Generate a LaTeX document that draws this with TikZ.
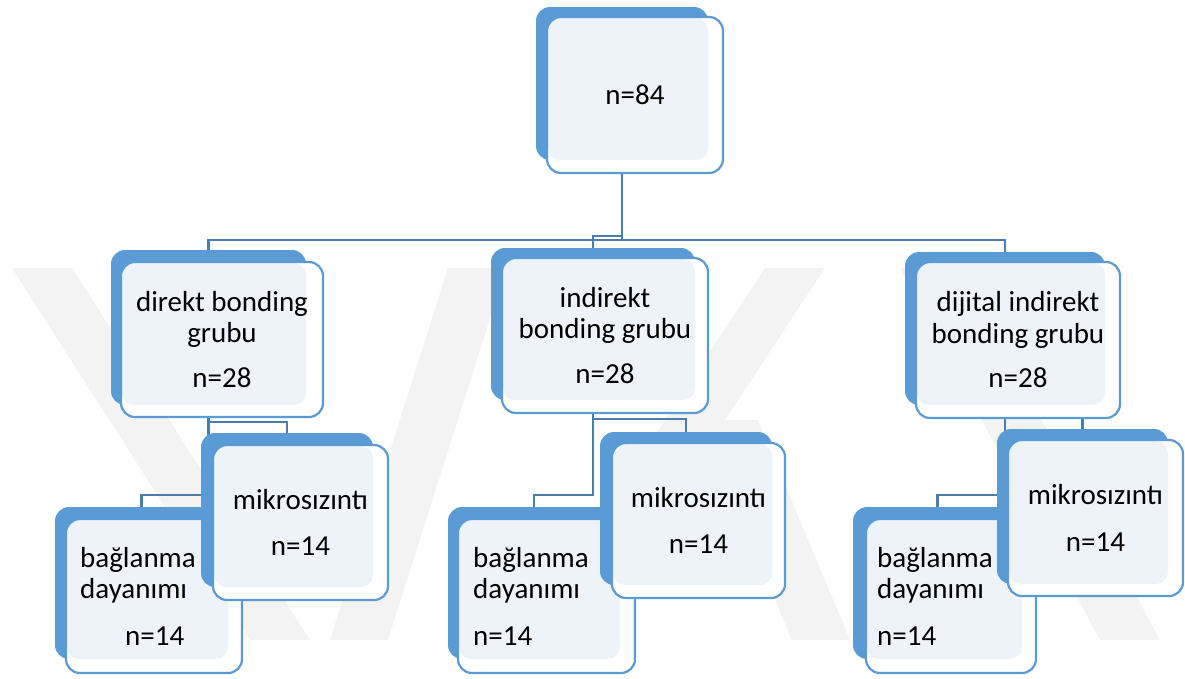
\documentclass[tikz,border=0pt]{standalone}
\usepackage{fontspec}
\setmainfont{Carlito}
\usetikzlibrary{fit}
\definecolor{boxblue}{HTML}{5B9BD5}
\definecolor{linkblue}{HTML}{4A7DAD}
\definecolor{paleblue}{HTML}{EEF3FA}
\definecolor{wmgray}{HTML}{F3F3F3}
\pgfdeclarelayer{wm}
\pgfdeclarelayer{conn}
\pgfsetlayers{wm,conn,main}
\tikzset{
  backbox/.style={fill=boxblue, draw=none, rounded corners=14pt, inner sep=0pt, outer sep=0pt},
  frontbox/.style={fill=white, draw=none, rounded corners=14pt, inner sep=0pt, outer sep=0pt},
  frontline/.style={draw=boxblue, line width=2.2pt, rounded corners=14pt},
  link/.style={draw=linkblue, line width=2.3pt},
  txt/.style={font=\fontsize{29}{31.5}\selectfont, text=black, inner sep=0pt},
  wmband/.style={fill=wmgray, draw=none}
}
\newcommand\twobox[9]{%
  \node[backbox, fit={(#2,#3)(#4,#5)}] (#1B) {};
  \node[frontbox, fit={(#6,#7)(#8,#9)}] (#1F) {};
  \fill[paleblue, rounded corners=12pt] ([shift={(1.1,1.1)}]#1F.north west) rectangle (#1B.south east);
  \draw[frontline] (#1F.north west) rectangle (#1F.south east);
}
\begin{document}
\begin{tikzpicture}[x=1pt,y=-1pt]
\useasboundingbox (0,0) rectangle (1185,678);
% watermark
\begin{pgfonlayer}{wm}
\fill[wmband] (12,268) -- (72,268) -- (310,640) -- (250,640) -- cycle;
\fill[wmband] (448,268) -- (506,268) -- (388,640) -- (330,640) -- cycle;
\fill[wmband] (765,268) -- (825,268) -- (580,640) -- (520,640) -- cycle;
\fill[wmband] (700,420) -- (758,420) -- (850,640) -- (792,640) -- cycle;
\fill[wmband] (900,268) -- (960,268) -- (1160,640) -- (1100,640) -- cycle;
\end{pgfonlayer}
% boxes
\twobox{top}{536}{7}{708}{160}{547}{17}{723}{173}
\twobox{lm}{111}{250}{306}{405}{121}{262}{323}{417}
\twobox{mm}{491}{248}{695}{400}{502}{258}{708}{413}
\twobox{rm}{905}{252}{1105}{405}{916}{262}{1120}{418}
\twobox{lbag}{55}{507}{228}{659}{66}{519}{242}{673}
\twobox{mbag}{448}{507}{620}{659}{458}{519}{635}{673}
\twobox{rbag}{853}{507}{1022}{659}{866}{519}{1036}{673}
\twobox{lmik}{201}{433}{373}{587}{213}{445}{388}{600}
\twobox{mmik}{600}{432}{772}{585}{612}{443}{785}{598}
\twobox{rmik}{997}{429}{1168}{584}{1008}{440}{1183}{596}
% texts
\node[txt] (topT) at (topF.center) {n=84};
\node[txt, align=center] (lmT) at (lmF.center) {direkt bonding\\grubu\\[13pt]n=28};
\node[txt, align=center] (mmT) at (mmF.center) {indirekt\\bonding grubu\\[13pt]n=28};
\node[txt, align=center] (rmT) at (rmF.center) {dijital indirekt\\bonding grubu\\[13pt]n=28};
\node[txt, align=left, anchor=west] (lbagT) at ([xshift=14pt]lbagF.west) {bağlanma\\dayanımı\\[15pt]\hspace*{45pt}n=14};
\node[txt, align=left, anchor=west] (mbagT) at ([xshift=15pt]mbagF.west) {bağlanma\\dayanımı\\[15pt]n=14};
\node[txt, align=left, anchor=west] (rbagT) at ([xshift=11pt]rbagF.west) {bağlanma\\dayanımı\\[15pt]n=14};
\node[txt, align=center] (lmikT) at (lmikF.center) {mikrosızıntı\\[15pt]n=14};
\node[txt, align=center] (mmikT) at (mmikF.center) {mikrosızıntı\\[15pt]n=14};
\node[txt, align=center] (rmikT) at (rmikF.center) {mikrosızıntı\\[15pt]n=14};
% connectors
\begin{pgfonlayer}{conn}
\draw[link] (topB.south) |- (lmB.north |- 0,240) -- (lmB.north);
\draw[link] (topB.south) |- (rmB.north |- 0,240) -- (rmB.north);
\draw[link] (topB.south) |- (mmB.north |- 0,236) -- (mmB.north);
\draw[link] (lmB.south) |- (lmikB.north |- 0,422) -- (lmikB.north);
\draw[link] (lmB.south) |- (lbagB.north |- 0,495) -- (lbagB.north);
\draw[link] (mmB.south) |- (mmikB.north |- 0,419) -- (mmikB.north);
\draw[link] (mmB.south) |- (mbagB.north |- 0,495) -- (mbagB.north);
\draw[link] (rmB.south) |- (rmikB.north |- 0,414) -- (rmikB.north);
\draw[link] (rmB.south) |- (rbagB.north |- 0,495) -- (rbagB.north);
\end{pgfonlayer}
\end{tikzpicture}
\end{document}
